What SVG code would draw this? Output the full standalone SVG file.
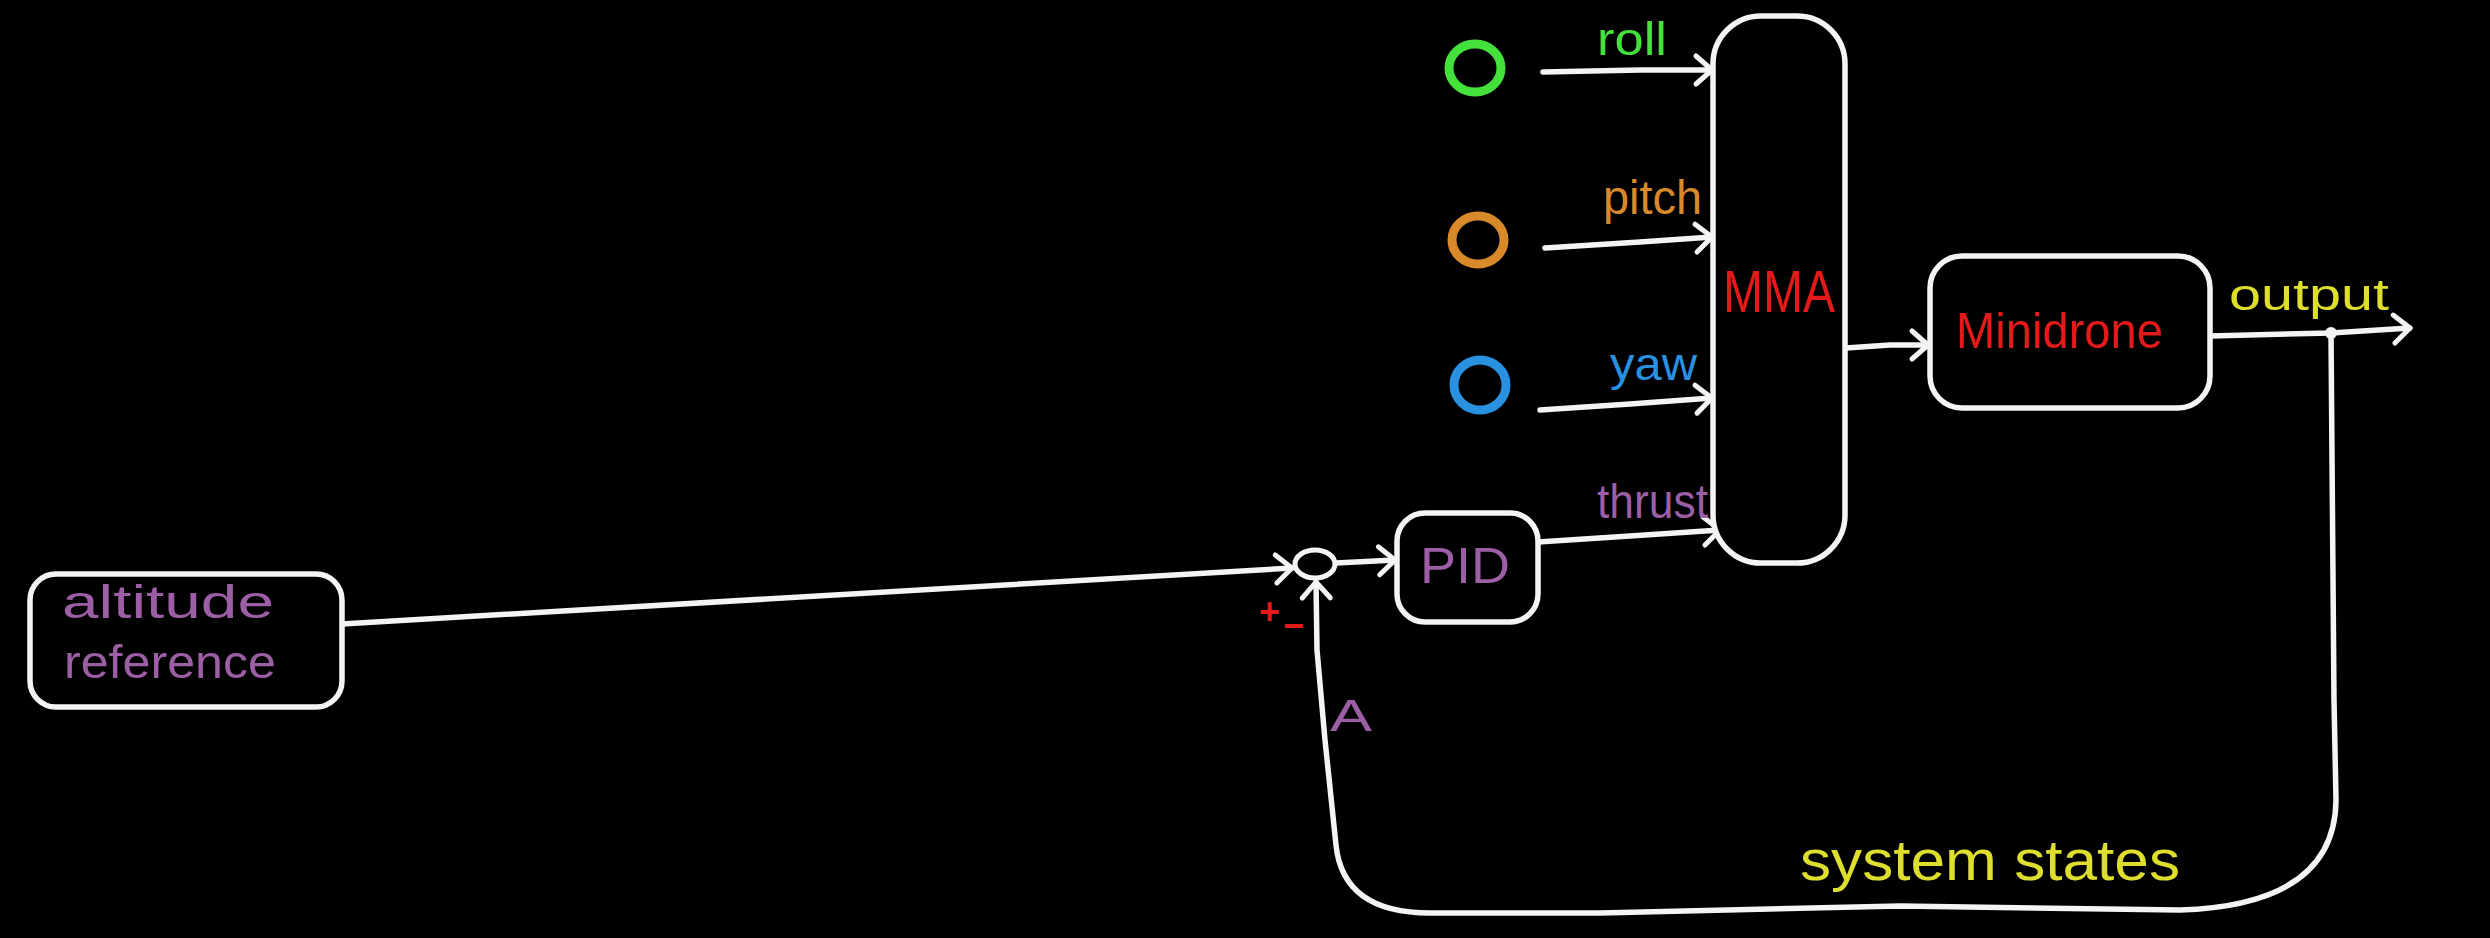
<svg xmlns="http://www.w3.org/2000/svg" width="2490" height="938" viewBox="0 0 2490 938">
<style>
.bg{fill:#000}
.box{fill:#000;stroke:#f4f4f4;stroke-width:5.5;stroke-linejoin:round}
.wire{fill:none;stroke:#f4f4f4;stroke-width:5.5;stroke-linecap:round;stroke-linejoin:round}
.t{font-family:"Liberation Sans","DejaVu Sans",sans-serif}
.pur{fill:#9c5ea4}
.red{fill:#e21a1a}
.grn{fill:#44e03c}
.org{fill:#d8892a}
.blu{fill:#2a90e0}
.yel{fill:#dede2e}
</style>
<defs>
<marker id="arr" markerUnits="userSpaceOnUse" markerWidth="32" markerHeight="36" refX="20" refY="18" orient="auto">
<path d="M4,4 L20,18 L4,32" fill="none" stroke="#f4f4f4" stroke-width="5" stroke-linecap="round" stroke-linejoin="round"/>
</marker>
</defs>
<rect class="bg" x="0" y="0" width="2490" height="938"/>

<g id="connectors">
<path class="wire" d="M342,624 L1292,568" marker-end="url(#arr)"/>
<path class="wire" d="M1336,563 L1395,560" marker-end="url(#arr)"/>
<path class="wire" d="M1543,72 L1640,70 L1712,70" marker-end="url(#arr)"/>
<path class="wire" d="M1545,248 L1640,242 L1712,237" marker-end="url(#arr)"/>
<path class="wire" d="M1540,410 L1630,404 L1712,398" marker-end="url(#arr)"/>
<path class="wire" d="M1538,542 L1630,536 L1720,530" marker-end="url(#arr)"/>
<path class="wire" d="M1846,348 L1890,345 L1928,345" marker-end="url(#arr)"/>
<path class="wire" d="M2210,336 L2331,333 L2410,328" marker-end="url(#arr)"/>
<circle cx="2331" cy="333" r="6" fill="#f4f4f4"/>
<path class="wire" d="M2331,333 L2334,700 L2336,800 Q2335,905 2180,910 L1900,906 L1600,913 L1430,913 Q1343,913 1336,845 L1325,740 L1317,650 L1316,582" marker-end="url(#arr)"/>
</g>

<g id="altitude-reference">
<rect class="box" x="30" y="574" width="312" height="133" rx="26"/>
<text class="t pur" x="62" y="618" font-size="46" textLength="212" lengthAdjust="spacingAndGlyphs">altitude</text>
<text class="t pur" x="64" y="678" font-size="46" textLength="212" lengthAdjust="spacingAndGlyphs">reference</text>
</g>

<g id="sum">
<ellipse cx="1315" cy="564" rx="20" ry="14" fill="none" stroke="#f4f4f4" stroke-width="5"/>
<text class="t red" x="1259" y="624" font-size="36" font-weight="bold">+</text>
<text class="t red" x="1283" y="638" font-size="36" font-weight="bold">−</text>
<text class="t pur" x="1330" y="731" font-size="44" textLength="42" lengthAdjust="spacingAndGlyphs">A</text>
</g>

<g id="pid">
<rect class="box" x="1397" y="513" width="141" height="109" rx="28"/>
<text class="t pur" x="1420" y="583" font-size="50" textLength="90" lengthAdjust="spacingAndGlyphs">PID</text>
</g>

<g id="roll-src">
<ellipse cx="1475" cy="68" rx="26" ry="24" fill="none" stroke="#44e03c" stroke-width="9"/>
<text class="t grn" x="1597" y="55" font-size="46" textLength="70" lengthAdjust="spacingAndGlyphs">roll</text>
</g>

<g id="pitch-src">
<ellipse cx="1478" cy="240" rx="26" ry="24" fill="none" stroke="#d8892a" stroke-width="9"/>
<text class="t org" x="1603" y="214" font-size="48" textLength="99" lengthAdjust="spacingAndGlyphs">pitch</text>
</g>

<g id="yaw-src">
<ellipse cx="1480" cy="385" rx="26" ry="25" fill="none" stroke="#2a90e0" stroke-width="9"/>
<text class="t blu" x="1610" y="380" font-size="46" textLength="87" lengthAdjust="spacingAndGlyphs">yaw</text>
</g>

<g id="thrust-label">
<text class="t pur" x="1597" y="518" font-size="48" textLength="111" lengthAdjust="spacingAndGlyphs">thrust</text>
</g>

<g id="mma">
<rect class="box" x="1713" y="16" width="132" height="547" rx="48"/>
<text class="t red" x="1723" y="312" font-size="60" textLength="112" lengthAdjust="spacingAndGlyphs">MMA</text>
</g>

<g id="minidrone">
<rect class="box" x="1930" y="256" width="280" height="152" rx="32"/>
<text class="t red" x="1956" y="348" font-size="50" textLength="207" lengthAdjust="spacingAndGlyphs">Minidrone</text>
</g>

<g id="labels">
<text class="t yel" x="2229" y="310" font-size="44" textLength="160" lengthAdjust="spacingAndGlyphs">output</text>
<text class="t yel" x="1800" y="880" font-size="58" textLength="380" lengthAdjust="spacingAndGlyphs">system states</text>
</g>
</svg>
